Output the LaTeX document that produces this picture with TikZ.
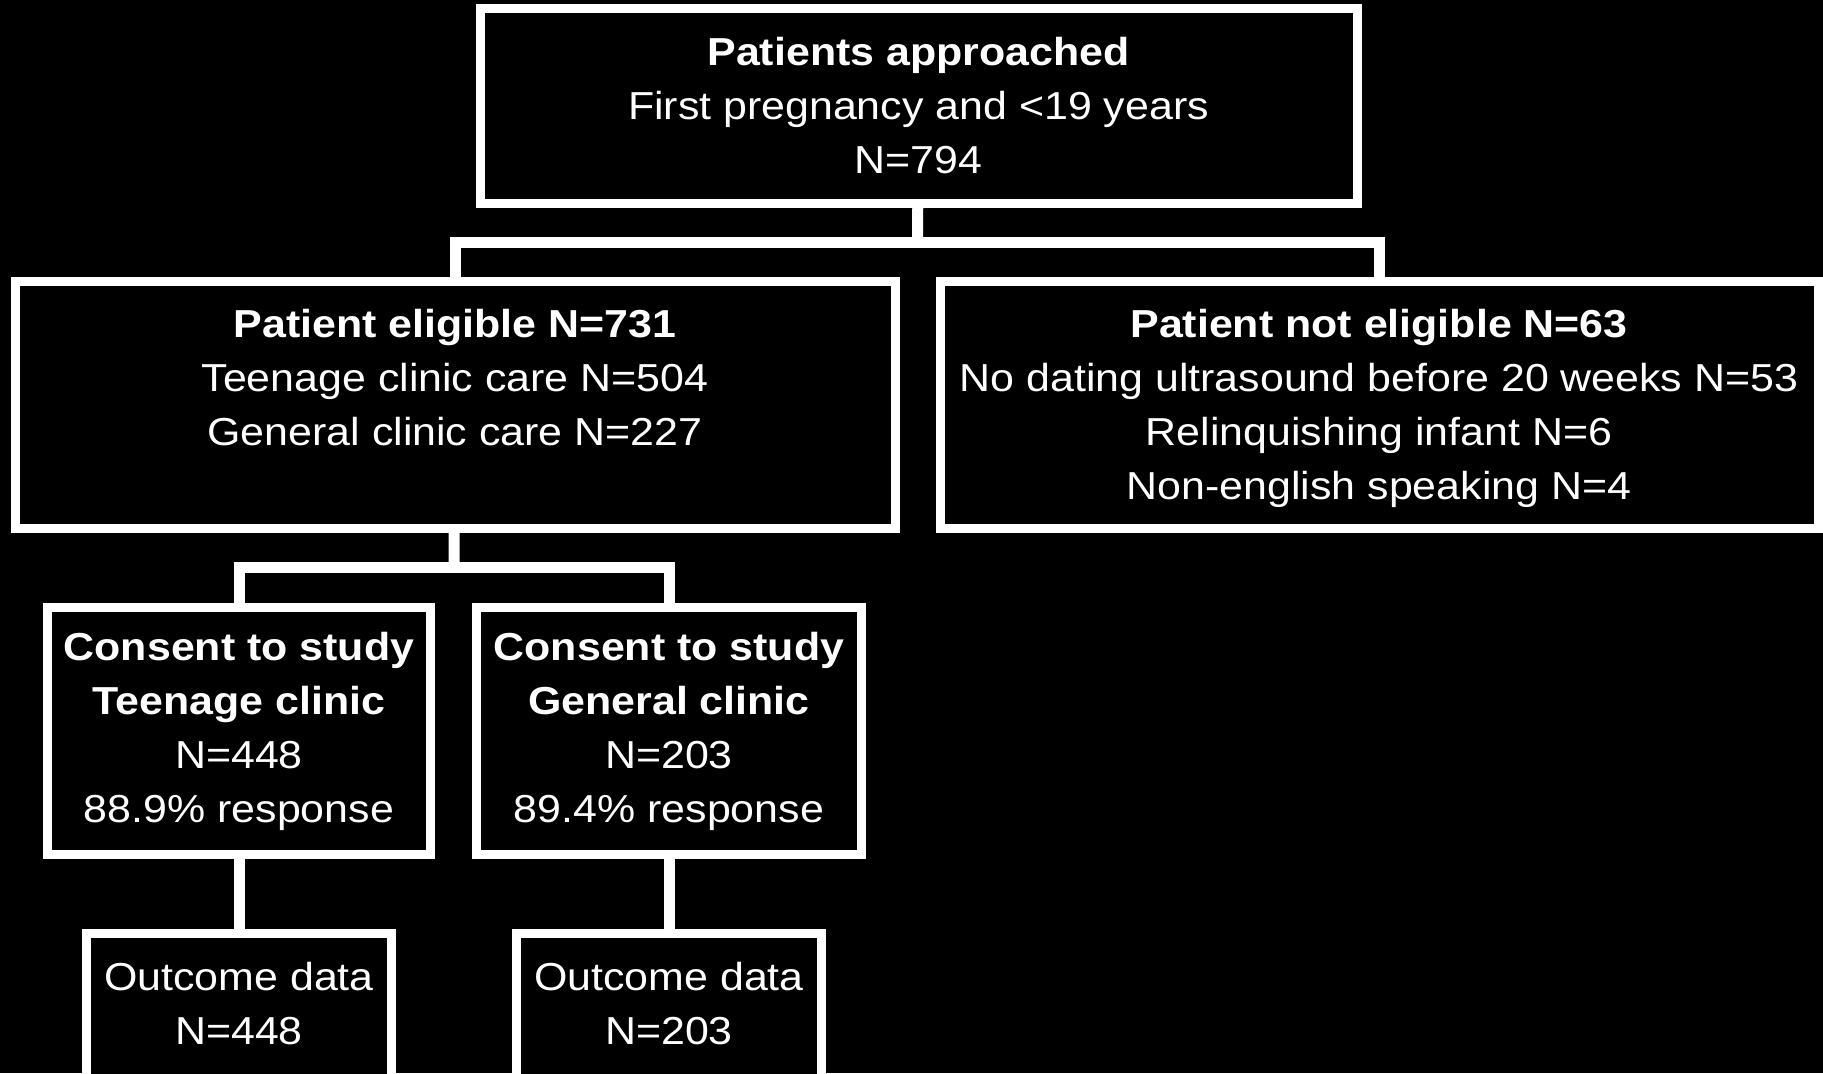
\documentclass[tikz,border=0pt]{standalone}
\usepackage{fontspec}
\setmainfont{Liberation Sans}[FakeStretch=1.1]
\begin{document}
\begin{tikzpicture}[scale=1]
    \tikzstyle{every node}=[draw=white,line width=0.9mm,fill=black,text=white,align=center,inner sep=0pt,font=\fontsize{11.1}{15.36}\selectfont];
    \tikzstyle{link}=[draw=white,line width=1.1mm];
    \useasboundingbox[fill=black] (0,0) rectangle (18.23,-10.73);
    \clip (0,0) rectangle (18.23,-10.73);
    \node[minimum width=87.7mm,minimum height=19.45mm] at (9.185, -1.06) (s0) {\textbf{Patients approached}\\First pregnancy and <19 years\\N=794};
    \node[minimum width=88mm,minimum height=24.7mm] at (4.55, -4.045) (s1a) {\textbf{Patient eligible N=731}\\Teenage clinic care N=504\\General clinic care N=227\\~};
    \node[minimum width=87.8mm,minimum height=24.7mm] at (13.79, -4.045) (s1b) {\textbf{Patient not eligible N=63}\\No dating ultrasound before 20 weeks N=53\\Relinquishing infant N=6\\\raisebox{0pt}[\height][0pt]{Non-english speaking N=4}};
    \node[minimum width=38.35mm,minimum height=24.75mm] at (2.39, -7.31) (s2a) {\textbf{Consent to study}\\\textbf{Teenage clinic}\\N=448\\88.9\% response};
    \node[minimum width=38.45mm,minimum height=24.75mm] at (6.69, -7.31) (s2b) {\textbf{Consent to study}\\\textbf{General clinic}\\N=203\\89.4\% response};
    \node[minimum width=30.5mm,minimum height=24.75mm] at (2.39, -10.5725) (s3a) {Outcome data\\N=448\\~\\~};
    \node[minimum width=30.5mm,minimum height=24.75mm] at (6.69, -10.5725) (s3b) {Outcome data\\N=203\\~\\~};
    \coordinate (j0) at (9.175, -2.42);
    \coordinate (j1) at (4.54, -5.67);
\draw[link] (s0) -- (j0);
\draw[link] (s1a.north) |- (j0) -| (s1b.north);
\draw[link] (s1a) -- (j1);
\draw[link] (s2a.north) |- (j1) -| (s2b.north);
\draw[link] (s2a) -- (s3a);
\draw[link] (s2b) -- (s3b);
\end{tikzpicture}
\end{document}
